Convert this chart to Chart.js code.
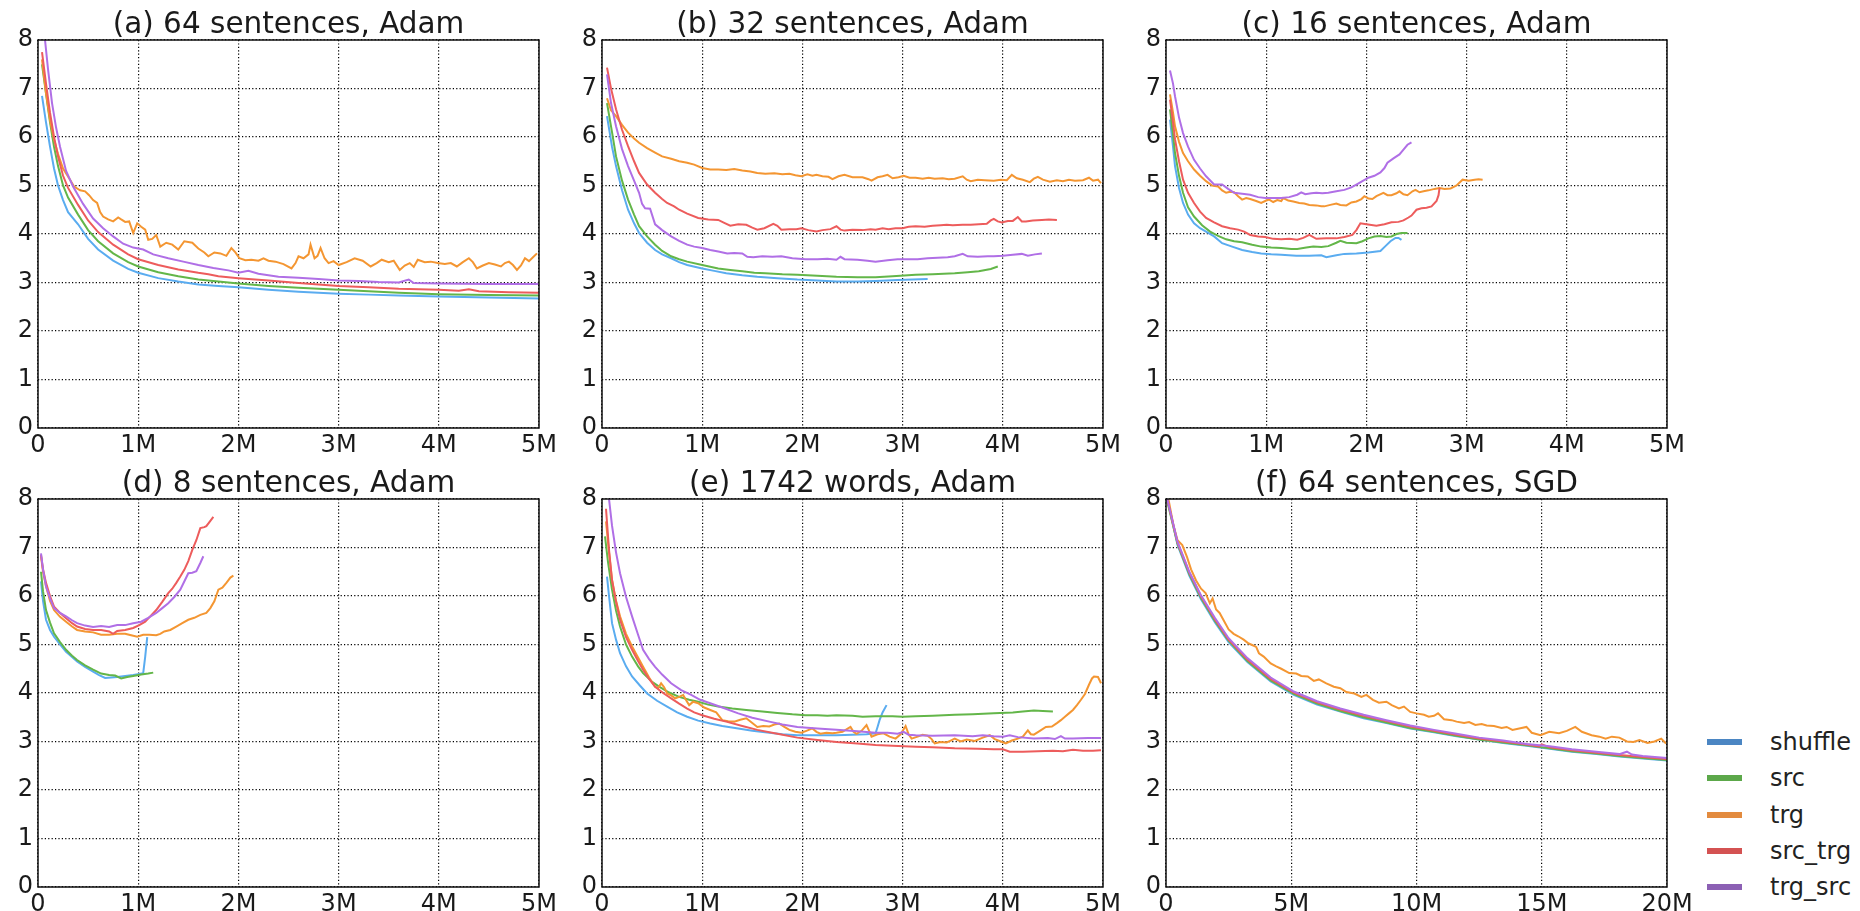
<!DOCTYPE html>
<html>
<head>
<meta charset="utf-8">
<title>Loss curves</title>
<script src="https://cdn.jsdelivr.net/npm/chart.js@4.4.1/dist/chart.umd.min.js"></script>
<style>
  html, body { margin: 0; padding: 0; background: #fff; }
  #page { position: relative; width: 1860px; height: 911px; overflow: hidden; }
  .panel { position: absolute; }
  #legend { position: absolute; left: 1707px; top: 724px; font-family: "DejaVu Sans", sans-serif; font-size: 24px; color: #222; }
  .legend-row { position: relative; height: 36.25px; line-height: 36px; white-space: nowrap; }
  .legend-line { position: absolute; left: 0; top: 15px; width: 35px; height: 6px; }
  .legend-text { position: absolute; left: 63px; top: 0; }
</style>
</head>
<body>
<div id="page"></div>
<script>
// ---- series / labels ----
const seriesNames = ["shuffle", "src", "trg", "src_trg", "trg_src"];
const lineColors = ["#5aacf0", "#63b649", "#f49632", "#ed5c5c", "#b06fe6"];
const legendColors = ["#4b86c3", "#5ca84a", "#e38b3e", "#d45252", "#8c60b4"];

const yLabels = ["0", "1", "2", "3", "4", "5", "6", "7", "8"];
const xLabels5M = ["0", "1M", "2M", "3M", "4M", "5M"];
const xLabels20M = ["0", "5M", "10M", "15M", "20M"];

// x values in millions of words, y = loss
// (a) 64 sentences, Adam
const aShuffle = [[0.04,6.85],[0.08,6.3],[0.12,5.8],[0.16,5.35],[0.2,5.0],[0.25,4.7],[0.3,4.45],[0.4,4.2],[0.5,3.9],[0.6,3.68],[0.75,3.45],[0.9,3.28],[1.0,3.2],[1.2,3.09],[1.4,3.02],[1.6,2.96],[1.8,2.93],[2.0,2.9],[2.3,2.85],[2.6,2.81],[2.9,2.78],[3.0,2.77],[3.3,2.75],[3.6,2.73],[4.0,2.71],[4.5,2.69],[5.0,2.67]];
const aSrc = [[0.04,7.5],[0.08,6.9],[0.12,6.3],[0.16,5.8],[0.2,5.4],[0.25,5.0],[0.3,4.75],[0.4,4.4],[0.5,4.08],[0.6,3.85],[0.75,3.6],[0.9,3.42],[1.0,3.33],[1.2,3.21],[1.4,3.13],[1.6,3.06],[1.8,3.02],[2.0,2.98],[2.3,2.93],[2.6,2.89],[3.0,2.85],[3.3,2.82],[3.6,2.79],[4.0,2.76],[4.5,2.74],[5.0,2.73]];
const aTrg = [[0.04,7.6],[0.08,6.9],[0.12,6.35],[0.16,5.95],[0.2,5.65],[0.25,5.35],[0.32,5.12],[0.36,4.98],[0.42,4.9],[0.47,4.88],[0.51,4.8],[0.55,4.7],[0.59,4.64],[0.62,4.45],[0.65,4.36],[0.7,4.3],[0.75,4.26],[0.8,4.34],[0.83,4.3],[0.87,4.25],[0.91,4.26],[0.95,4.02],[0.99,4.22],[1.03,4.15],[1.07,4.09],[1.1,3.88],[1.14,3.9],[1.18,3.98],[1.22,3.74],[1.28,3.82],[1.34,3.78],[1.4,3.68],[1.46,3.85],[1.54,3.82],[1.6,3.7],[1.66,3.62],[1.7,3.54],[1.76,3.62],[1.82,3.6],[1.88,3.55],[1.93,3.71],[1.97,3.62],[2.01,3.5],[2.07,3.46],[2.13,3.47],[2.2,3.45],[2.25,3.5],[2.3,3.45],[2.37,3.43],[2.45,3.38],[2.53,3.29],[2.57,3.4],[2.6,3.54],[2.65,3.5],[2.7,3.58],[2.72,3.78],[2.76,3.5],[2.79,3.55],[2.82,3.71],[2.86,3.5],[2.9,3.4],[2.95,3.44],[3.0,3.36],[3.08,3.42],[3.16,3.5],[3.24,3.45],[3.32,3.33],[3.38,3.4],[3.43,3.47],[3.5,3.42],[3.55,3.45],[3.61,3.26],[3.66,3.35],[3.71,3.4],[3.75,3.32],[3.79,3.47],[3.86,3.42],[3.92,3.43],[3.99,3.4],[4.06,3.38],[4.12,3.4],[4.18,3.33],[4.24,3.42],[4.3,3.5],[4.34,3.42],[4.38,3.29],[4.44,3.35],[4.5,3.4],[4.56,3.37],[4.62,3.33],[4.66,3.4],[4.7,3.43],[4.74,3.36],[4.78,3.26],[4.82,3.35],[4.86,3.5],[4.9,3.44],[4.94,3.52],[4.98,3.6]];
const aSrcTrg = [[0.04,7.75],[0.08,7.1],[0.12,6.5],[0.16,6.0],[0.2,5.6],[0.25,5.2],[0.3,4.95],[0.4,4.6],[0.5,4.28],[0.6,4.04],[0.75,3.78],[0.9,3.58],[1.0,3.48],[1.2,3.36],[1.4,3.27],[1.6,3.2],[1.7,3.17],[1.8,3.13],[2.0,3.09],[2.3,3.04],[2.6,2.99],[3.0,2.93],[3.3,2.9],[3.6,2.87],[4.0,2.85],[4.2,2.83],[4.3,2.86],[4.4,2.82],[4.7,2.8],[5.0,2.79]];
const aTrgSrc = [[0.07,8.0],[0.1,7.4],[0.14,6.7],[0.18,6.2],[0.22,5.8],[0.28,5.3],[0.35,4.98],[0.45,4.62],[0.55,4.32],[0.65,4.12],[0.75,3.95],[0.85,3.8],[0.95,3.72],[1.05,3.68],[1.15,3.58],[1.3,3.5],[1.45,3.43],[1.6,3.36],[1.75,3.3],[1.9,3.25],[2.0,3.2],[2.1,3.24],[2.2,3.18],[2.4,3.12],[2.6,3.1],[2.8,3.07],[3.0,3.04],[3.2,3.03],[3.4,3.01],[3.6,3.0],[3.7,3.06],[3.75,2.99],[4.0,2.98],[4.5,2.97],[5.0,2.97]];

// (b) 32 sentences, Adam
const bShuffle = [[0.05,6.43],[0.1,5.8],[0.14,5.4],[0.2,4.9],[0.26,4.5],[0.32,4.22],[0.37,4.02],[0.45,3.82],[0.53,3.67],[0.6,3.58],[0.69,3.5],[0.77,3.42],[0.85,3.36],[1.0,3.29],[1.12,3.24],[1.24,3.19],[1.4,3.15],[1.55,3.12],[1.75,3.09],[1.95,3.06],[2.15,3.04],[2.34,3.02],[2.55,3.02],[2.73,3.03],[2.95,3.05],[3.1,3.06],[3.25,3.07]];
const bSrc = [[0.05,6.7],[0.1,6.1],[0.14,5.6],[0.2,5.1],[0.26,4.71],[0.32,4.4],[0.37,4.16],[0.45,3.95],[0.53,3.78],[0.6,3.65],[0.69,3.54],[0.77,3.48],[0.85,3.43],[1.0,3.36],[1.16,3.29],[1.28,3.26],[1.4,3.23],[1.52,3.2],[1.63,3.19],[1.8,3.17],[1.95,3.16],[2.15,3.14],[2.34,3.12],[2.55,3.11],[2.73,3.11],[2.9,3.13],[3.13,3.16],[3.3,3.17],[3.52,3.19],[3.65,3.21],[3.76,3.23],[3.88,3.28],[3.95,3.33]];
const bTrg = [[0.05,6.8],[0.09,6.55],[0.14,6.43],[0.2,6.25],[0.26,6.09],[0.32,5.97],[0.37,5.88],[0.45,5.77],[0.53,5.68],[0.6,5.6],[0.69,5.55],[0.77,5.5],[0.85,5.47],[0.92,5.43],[1.0,5.36],[1.08,5.33],[1.16,5.33],[1.24,5.32],[1.32,5.34],[1.4,5.31],[1.48,5.29],[1.55,5.26],[1.63,5.24],[1.72,5.25],[1.8,5.23],[1.87,5.24],[1.93,5.21],[1.99,5.19],[2.05,5.23],[2.1,5.2],[2.14,5.22],[2.2,5.19],[2.26,5.18],[2.3,5.13],[2.36,5.19],[2.42,5.22],[2.5,5.17],[2.6,5.17],[2.66,5.13],[2.69,5.1],[2.75,5.17],[2.8,5.19],[2.85,5.22],[2.9,5.15],[2.96,5.17],[3.01,5.2],[3.07,5.16],[3.13,5.16],[3.2,5.14],[3.26,5.16],[3.32,5.14],[3.4,5.15],[3.46,5.13],[3.52,5.14],[3.6,5.19],[3.64,5.12],[3.68,5.09],[3.75,5.12],[3.82,5.11],[3.91,5.1],[3.98,5.12],[4.04,5.11],[4.09,5.22],[4.14,5.15],[4.2,5.12],[4.27,5.07],[4.31,5.14],[4.35,5.18],[4.4,5.12],[4.47,5.08],[4.54,5.11],[4.6,5.09],[4.66,5.12],[4.72,5.1],[4.8,5.11],[4.86,5.16],[4.9,5.1],[4.95,5.12],[4.98,5.05]];
const bSrcTrg = [[0.05,7.43],[0.09,7.0],[0.14,6.57],[0.2,6.15],[0.26,5.81],[0.32,5.5],[0.37,5.26],[0.45,5.02],[0.53,4.85],[0.6,4.72],[0.65,4.64],[0.72,4.57],[0.77,4.5],[0.85,4.42],[0.96,4.33],[1.06,4.3],[1.16,4.29],[1.22,4.23],[1.28,4.17],[1.36,4.2],[1.44,4.19],[1.5,4.13],[1.55,4.09],[1.62,4.12],[1.71,4.21],[1.75,4.17],[1.79,4.09],[1.87,4.1],[1.94,4.1],[1.99,4.12],[2.06,4.08],[2.14,4.05],[2.2,4.08],[2.28,4.1],[2.34,4.16],[2.38,4.09],[2.42,4.07],[2.5,4.09],[2.6,4.08],[2.68,4.1],[2.73,4.09],[2.8,4.12],[2.86,4.1],[2.93,4.12],[3.0,4.12],[3.06,4.15],[3.13,4.16],[3.22,4.15],[3.3,4.17],[3.38,4.18],[3.44,4.19],[3.5,4.18],[3.6,4.19],[3.68,4.19],[3.76,4.2],[3.84,4.21],[3.88,4.28],[3.91,4.31],[3.95,4.26],[3.99,4.24],[4.05,4.27],[4.1,4.27],[4.15,4.35],[4.19,4.26],[4.23,4.26],[4.3,4.28],[4.39,4.29],[4.46,4.3],[4.54,4.29]];
const bTrgSrc = [[0.05,7.29],[0.09,6.7],[0.14,6.22],[0.2,5.75],[0.26,5.4],[0.32,5.1],[0.37,4.85],[0.4,4.62],[0.43,4.53],[0.48,4.52],[0.53,4.2],[0.6,4.08],[0.69,3.95],[0.77,3.86],[0.85,3.78],[0.92,3.74],[1.0,3.71],[1.08,3.67],[1.16,3.64],[1.25,3.6],[1.32,3.61],[1.4,3.6],[1.45,3.53],[1.51,3.52],[1.6,3.54],[1.7,3.53],[1.79,3.54],[1.9,3.5],[2.03,3.48],[2.15,3.48],[2.25,3.49],[2.34,3.47],[2.38,3.53],[2.42,3.48],[2.55,3.47],[2.65,3.45],[2.73,3.43],[2.85,3.46],[2.95,3.48],[3.05,3.48],[3.15,3.48],[3.25,3.5],[3.35,3.51],[3.45,3.52],[3.52,3.54],[3.6,3.59],[3.65,3.54],[3.75,3.53],[3.85,3.54],[3.91,3.54],[4.0,3.55],[4.1,3.57],[4.19,3.59],[4.25,3.55],[4.32,3.58],[4.39,3.6]];

// (c) 16 sentences, Adam
const cShuffle = [[0.04,6.36],[0.07,5.8],[0.09,5.4],[0.13,4.95],[0.17,4.64],[0.22,4.4],[0.28,4.22],[0.34,4.12],[0.4,4.05],[0.48,3.95],[0.56,3.81],[0.66,3.74],[0.76,3.67],[0.86,3.63],[0.95,3.6],[1.05,3.58],[1.15,3.57],[1.3,3.55],[1.43,3.55],[1.55,3.56],[1.6,3.52],[1.7,3.56],[1.78,3.59],[1.9,3.6],[2.02,3.62],[2.14,3.65],[2.19,3.75],[2.24,3.85],[2.29,3.92],[2.32,3.92],[2.35,3.88]];
const cSrc = [[0.04,6.57],[0.07,6.05],[0.09,5.67],[0.13,5.2],[0.17,4.85],[0.22,4.55],[0.28,4.36],[0.36,4.18],[0.44,4.05],[0.52,3.96],[0.6,3.89],[0.68,3.85],[0.76,3.83],[0.86,3.78],[0.95,3.74],[1.05,3.72],[1.15,3.71],[1.25,3.69],[1.31,3.69],[1.4,3.72],[1.47,3.74],[1.55,3.73],[1.62,3.75],[1.7,3.82],[1.74,3.86],[1.8,3.82],[1.9,3.81],[1.96,3.85],[2.02,3.91],[2.08,3.95],[2.14,3.96],[2.2,3.94],[2.25,3.95],[2.3,4.0],[2.35,4.02],[2.41,4.02]];
const cTrg = [[0.04,6.88],[0.07,6.5],[0.09,6.22],[0.13,5.9],[0.17,5.67],[0.22,5.5],[0.28,5.33],[0.34,5.2],[0.4,5.09],[0.46,5.0],[0.52,4.98],[0.56,4.9],[0.6,4.85],[0.64,4.87],[0.68,4.86],[0.72,4.78],[0.76,4.71],[0.8,4.74],[0.84,4.72],[0.9,4.68],[0.95,4.64],[1.0,4.69],[1.03,4.71],[1.07,4.66],[1.11,4.7],[1.15,4.68],[1.17,4.74],[1.22,4.69],[1.27,4.67],[1.33,4.64],[1.38,4.63],[1.43,4.6],[1.5,4.59],[1.55,4.57],[1.58,4.57],[1.64,4.6],[1.7,4.63],[1.74,4.6],[1.8,4.59],[1.85,4.65],[1.9,4.67],[1.95,4.72],[1.98,4.78],[2.02,4.73],[2.06,4.72],[2.1,4.78],[2.17,4.85],[2.21,4.8],[2.25,4.8],[2.3,4.84],[2.33,4.88],[2.37,4.82],[2.41,4.8],[2.46,4.88],[2.49,4.91],[2.53,4.86],[2.57,4.88],[2.62,4.9],[2.68,4.93],[2.73,4.95],[2.78,4.93],[2.84,4.94],[2.9,5.0],[2.96,5.12],[3.02,5.1],[3.08,5.12],[3.12,5.13],[3.16,5.12]];
const cSrcTrg = [[0.04,6.77],[0.07,6.3],[0.09,5.95],[0.13,5.5],[0.17,5.12],[0.22,4.85],[0.28,4.64],[0.34,4.46],[0.4,4.33],[0.48,4.24],[0.56,4.16],[0.64,4.12],[0.72,4.09],[0.78,4.05],[0.84,3.98],[0.92,3.95],[0.99,3.94],[1.07,3.9],[1.15,3.89],[1.23,3.9],[1.31,3.88],[1.37,3.92],[1.43,3.98],[1.5,3.9],[1.6,3.91],[1.7,3.91],[1.78,3.94],[1.86,3.98],[1.9,4.08],[1.94,4.22],[2.0,4.2],[2.1,4.17],[2.18,4.2],[2.25,4.24],[2.32,4.25],[2.37,4.28],[2.42,4.34],[2.45,4.38],[2.5,4.5],[2.55,4.53],[2.6,4.54],[2.65,4.57],[2.7,4.68],[2.72,4.8],[2.73,4.95]];
const cTrgSrc = [[0.04,7.37],[0.07,7.1],[0.09,6.84],[0.13,6.4],[0.17,6.08],[0.22,5.8],[0.28,5.53],[0.34,5.35],[0.4,5.19],[0.48,5.02],[0.56,5.02],[0.62,4.93],[0.68,4.85],[0.76,4.83],[0.84,4.81],[0.92,4.76],[0.99,4.74],[1.07,4.74],[1.15,4.74],[1.23,4.76],[1.31,4.81],[1.35,4.86],[1.39,4.82],[1.45,4.84],[1.5,4.85],[1.56,4.84],[1.62,4.85],[1.7,4.88],[1.78,4.91],[1.85,4.96],[1.9,5.02],[1.96,5.09],[2.02,5.16],[2.08,5.2],[2.14,5.27],[2.18,5.36],[2.21,5.47],[2.27,5.56],[2.33,5.64],[2.37,5.74],[2.41,5.84],[2.45,5.89]];

// (d) 8 sentences, Adam
const dShuffle = [[0.03,6.3],[0.05,5.9],[0.08,5.51],[0.12,5.3],[0.16,5.16],[0.22,5.0],[0.28,4.85],[0.34,4.74],[0.39,4.65],[0.47,4.54],[0.55,4.44],[0.61,4.37],[0.67,4.31],[0.73,4.32],[0.79,4.33],[0.87,4.35],[0.95,4.37],[1.01,4.39],[1.05,4.41],[1.07,4.75],[1.09,5.15]];
const dSrc = [[0.03,6.5],[0.05,6.1],[0.08,5.71],[0.12,5.45],[0.16,5.23],[0.22,5.05],[0.28,4.89],[0.34,4.77],[0.39,4.68],[0.47,4.57],[0.55,4.48],[0.63,4.4],[0.71,4.37],[0.77,4.36],[0.83,4.3],[0.89,4.33],[0.95,4.35],[1.03,4.38],[1.1,4.4],[1.15,4.42]];
const dTrg = [[0.03,6.82],[0.05,6.5],[0.08,6.2],[0.12,5.9],[0.16,5.71],[0.22,5.57],[0.28,5.47],[0.34,5.37],[0.39,5.3],[0.47,5.27],[0.55,5.25],[0.63,5.2],[0.71,5.2],[0.79,5.22],[0.87,5.22],[0.93,5.19],[0.99,5.16],[1.05,5.2],[1.11,5.2],[1.18,5.19],[1.22,5.22],[1.26,5.27],[1.32,5.3],[1.38,5.37],[1.44,5.44],[1.5,5.51],[1.56,5.55],[1.62,5.61],[1.68,5.65],[1.72,5.75],[1.76,5.89],[1.8,6.13],[1.84,6.17],[1.88,6.27],[1.92,6.38],[1.95,6.42]];
const dSrcTrg = [[0.03,6.85],[0.05,6.55],[0.08,6.27],[0.12,6.0],[0.16,5.78],[0.22,5.65],[0.28,5.54],[0.34,5.44],[0.39,5.37],[0.47,5.32],[0.55,5.3],[0.63,5.3],[0.71,5.27],[0.75,5.22],[0.79,5.28],[0.87,5.3],[0.95,5.34],[1.01,5.4],[1.07,5.47],[1.12,5.58],[1.18,5.71],[1.24,5.88],[1.3,6.06],[1.34,6.15],[1.38,6.27],[1.42,6.4],[1.46,6.54],[1.5,6.72],[1.54,6.95],[1.58,7.15],[1.62,7.4],[1.66,7.42],[1.68,7.44],[1.72,7.55],[1.75,7.63]];
const dTrgSrc = [[0.03,6.88],[0.05,6.55],[0.08,6.2],[0.12,5.95],[0.16,5.75],[0.22,5.65],[0.28,5.58],[0.34,5.5],[0.39,5.44],[0.47,5.39],[0.55,5.36],[0.63,5.38],[0.71,5.36],[0.79,5.4],[0.87,5.4],[0.95,5.44],[1.03,5.47],[1.1,5.55],[1.18,5.65],[1.24,5.75],[1.3,5.85],[1.36,5.98],[1.42,6.13],[1.46,6.3],[1.5,6.47],[1.54,6.48],[1.58,6.51],[1.62,6.68],[1.65,6.82]];

// (e) 1742 words, Adam
const eShuffle = [[0.05,6.4],[0.07,6.0],[0.1,5.44],[0.14,5.1],[0.18,4.82],[0.24,4.55],[0.3,4.34],[0.38,4.15],[0.45,3.99],[0.55,3.84],[0.65,3.72],[0.75,3.6],[0.85,3.51],[0.96,3.43],[1.08,3.37],[1.2,3.32],[1.36,3.27],[1.5,3.22],[1.67,3.18],[1.8,3.15],[1.95,3.13],[2.15,3.13],[2.34,3.13],[2.5,3.14],[2.64,3.15],[2.73,3.17],[2.75,3.3],[2.77,3.44],[2.8,3.6],[2.84,3.75]];
const eSrc = [[0.03,7.23],[0.06,6.7],[0.1,6.13],[0.14,5.7],[0.18,5.37],[0.24,5.0],[0.3,4.75],[0.36,4.55],[0.41,4.41],[0.5,4.23],[0.57,4.13],[0.67,4.01],[0.77,3.92],[0.87,3.86],[0.96,3.82],[1.06,3.76],[1.16,3.72],[1.3,3.68],[1.44,3.65],[1.6,3.62],[1.75,3.59],[1.9,3.56],[2.03,3.54],[2.15,3.54],[2.25,3.53],[2.34,3.54],[2.5,3.53],[2.6,3.51],[2.73,3.52],[2.9,3.52],[3.0,3.51],[3.13,3.52],[3.3,3.53],[3.52,3.55],[3.7,3.56],[3.91,3.58],[4.1,3.6],[4.2,3.62],[4.31,3.64],[4.4,3.63],[4.5,3.62]];
const eTrg = [[0.04,7.54],[0.07,6.9],[0.1,6.33],[0.14,5.9],[0.18,5.58],[0.24,5.22],[0.3,4.96],[0.36,4.73],[0.41,4.54],[0.47,4.32],[0.53,4.13],[0.56,4.1],[0.59,4.2],[0.62,4.12],[0.65,3.99],[0.69,3.95],[0.73,3.89],[0.77,3.92],[0.81,3.96],[0.84,3.85],[0.87,3.75],[0.91,3.82],[0.96,3.79],[1.02,3.7],[1.08,3.65],[1.14,3.6],[1.2,3.44],[1.26,3.42],[1.32,3.41],[1.38,3.45],[1.44,3.48],[1.5,3.38],[1.55,3.3],[1.61,3.32],[1.67,3.31],[1.72,3.35],[1.77,3.37],[1.82,3.3],[1.87,3.24],[1.93,3.2],[1.99,3.18],[2.04,3.22],[2.1,3.27],[2.14,3.2],[2.18,3.16],[2.24,3.18],[2.3,3.17],[2.34,3.18],[2.4,3.2],[2.44,3.25],[2.48,3.3],[2.51,3.2],[2.54,3.16],[2.59,3.22],[2.64,3.34],[2.67,3.2],[2.69,3.1],[2.75,3.15],[2.81,3.17],[2.87,3.1],[2.93,3.06],[2.98,3.15],[3.03,3.32],[3.06,3.15],[3.09,3.06],[3.15,3.1],[3.2,3.14],[3.25,3.12],[3.29,3.05],[3.32,2.96],[3.38,2.99],[3.44,2.98],[3.48,3.02],[3.52,3.06],[3.58,3.0],[3.64,3.04],[3.72,3.01],[3.8,3.08],[3.87,3.13],[3.92,3.05],[3.98,3.0],[4.03,2.96],[4.09,3.02],[4.15,3.06],[4.2,3.1],[4.25,3.23],[4.28,3.15],[4.31,3.14],[4.37,3.22],[4.43,3.3],[4.49,3.31],[4.54,3.38],[4.58,3.44],[4.62,3.51],[4.66,3.58],[4.7,3.65],[4.74,3.75],[4.78,3.86],[4.82,3.98],[4.86,4.17],[4.89,4.3],[4.91,4.34],[4.95,4.33],[4.98,4.2]];
const eSrcTrg = [[0.04,7.8],[0.07,6.95],[0.1,6.33],[0.14,5.88],[0.18,5.51],[0.24,5.15],[0.3,4.89],[0.36,4.66],[0.41,4.48],[0.47,4.29],[0.53,4.13],[0.61,4.0],[0.69,3.89],[0.77,3.78],[0.85,3.68],[0.92,3.6],[1.0,3.54],[1.12,3.47],[1.24,3.41],[1.4,3.32],[1.55,3.24],[1.75,3.16],[1.95,3.08],[2.15,3.03],[2.34,2.99],[2.55,2.96],[2.73,2.93],[2.9,2.91],[3.13,2.89],[3.3,2.88],[3.52,2.86],[3.75,2.85],[3.91,2.84],[4.0,2.84],[4.07,2.79],[4.2,2.79],[4.35,2.8],[4.5,2.81],[4.6,2.8],[4.7,2.83],[4.8,2.81],[4.9,2.81],[4.98,2.82]];
const eTrgSrc = [[0.07,8.0],[0.1,7.45],[0.14,6.9],[0.18,6.47],[0.24,5.98],[0.3,5.58],[0.36,5.2],[0.41,4.89],[0.47,4.7],[0.53,4.54],[0.6,4.38],[0.69,4.2],[0.79,4.06],[0.89,3.96],[0.98,3.86],[1.08,3.79],[1.2,3.7],[1.36,3.58],[1.5,3.49],[1.67,3.41],[1.8,3.35],[1.95,3.3],[2.15,3.27],[2.34,3.24],[2.55,3.21],[2.73,3.18],[2.85,3.18],[2.95,3.16],[3.01,3.2],[3.06,3.14],[3.13,3.13],[3.3,3.12],[3.52,3.13],[3.7,3.11],[3.8,3.13],[3.91,3.11],[4.0,3.1],[4.07,3.13],[4.15,3.09],[4.31,3.06],[4.45,3.07],[4.52,3.05],[4.58,3.11],[4.62,3.06],[4.7,3.06],[4.85,3.07],[4.98,3.07]];

// (f) 64 sentences, SGD
const fShuffle = [[0.05,8.0],[0.46,7.05],[0.93,6.42],[1.39,5.94],[1.95,5.46],[2.5,5.05],[3.25,4.64],[4.18,4.24],[5.1,3.96],[6.03,3.76],[6.96,3.62],[7.89,3.48],[8.8,3.38],[9.75,3.27],[10.7,3.19],[11.6,3.11],[12.5,3.04],[13.46,2.97],[14.4,2.91],[15.32,2.85],[16.2,2.79],[17.18,2.74],[18.1,2.69],[19.03,2.65],[20.0,2.61]];
const fSrc = [[0.05,7.95],[0.46,7.08],[0.93,6.45],[1.39,5.97],[1.95,5.49],[2.5,5.08],[3.25,4.66],[4.18,4.26],[5.1,3.98],[6.03,3.78],[6.96,3.63],[7.89,3.5],[8.8,3.39],[9.75,3.28],[10.7,3.2],[11.6,3.12],[12.5,3.04],[13.46,2.98],[14.4,2.92],[15.32,2.86],[16.2,2.8],[17.18,2.75],[18.1,2.7],[19.03,2.66],[20.0,2.62]];
const fTrg = [[0.1,7.99],[0.3,7.45],[0.46,7.15],[0.65,7.05],[0.84,6.8],[1.0,6.55],[1.2,6.32],[1.4,6.15],[1.58,6.06],[1.75,5.85],[1.86,5.95],[2.0,5.72],[2.14,5.65],[2.3,5.5],[2.5,5.31],[2.7,5.22],[2.88,5.17],[3.1,5.1],[3.3,5.02],[3.44,4.99],[3.6,4.95],[3.71,4.82],[3.9,4.75],[4.18,4.61],[4.4,4.55],[4.6,4.5],[4.92,4.41],[5.2,4.4],[5.4,4.35],[5.66,4.34],[5.9,4.25],[6.1,4.28],[6.4,4.2],[6.7,4.13],[6.96,4.1],[7.2,4.02],[7.52,3.99],[7.8,3.92],[8.0,3.96],[8.26,3.86],[8.5,3.8],[8.8,3.82],[9.01,3.75],[9.3,3.68],[9.5,3.72],[9.75,3.61],[10.0,3.58],[10.3,3.55],[10.49,3.51],[10.7,3.53],[10.86,3.58],[11.1,3.46],[11.4,3.44],[11.6,3.41],[11.9,3.38],[12.1,3.4],[12.35,3.34],[12.6,3.36],[12.8,3.33],[13.09,3.32],[13.4,3.28],[13.6,3.3],[13.83,3.24],[14.1,3.27],[14.39,3.3],[14.6,3.18],[14.95,3.13],[15.3,3.2],[15.69,3.17],[16.0,3.22],[16.34,3.3],[16.6,3.2],[16.99,3.13],[17.3,3.1],[17.55,3.06],[17.8,3.1],[18.1,3.08],[18.4,3.0],[18.66,2.99],[18.9,3.03],[19.22,2.97],[19.5,3.0],[19.77,3.06],[19.96,2.96]];
const fSrcTrg = [[0.05,8.0],[0.46,7.1],[0.93,6.48],[1.39,6.0],[1.95,5.52],[2.5,5.1],[3.25,4.69],[4.18,4.29],[5.1,4.01],[6.03,3.81],[6.96,3.66],[7.89,3.53],[8.8,3.42],[9.75,3.31],[10.7,3.22],[11.6,3.14],[12.5,3.06],[13.46,3.0],[14.4,2.94],[14.9,2.9],[15.0,2.94],[15.32,2.88],[16.2,2.82],[17.18,2.77],[18.1,2.72],[19.03,2.68],[20.0,2.64]];
const fTrgSrc = [[0.05,8.0],[0.46,7.12],[0.93,6.5],[1.39,6.02],[1.95,5.55],[2.5,5.13],[3.25,4.72],[4.18,4.32],[5.1,4.03],[6.03,3.83],[6.96,3.68],[7.89,3.55],[8.8,3.44],[9.75,3.33],[10.7,3.24],[11.6,3.16],[12.5,3.08],[13.46,3.02],[14.4,2.95],[15.32,2.9],[16.2,2.84],[17.18,2.79],[18.1,2.74],[18.4,2.79],[18.6,2.73],[19.03,2.7],[20.0,2.66]];

// ---- layout ----
const plotW = 501, plotH = 388;
const padL = 36, padT = 40, padR = 30, padB = 45;
const yAxisW = 34, xAxisH = 32, titleSize = 29.5, tickSize = 24;

const panels = [
  { title: "(a) 64 sentences, Adam", left: 38,   top: 40,  xMax: 5,  xStep: 1, xLabels: xLabels5M,  series: [aShuffle, aSrc, aTrg, aSrcTrg, aTrgSrc] },
  { title: "(b) 32 sentences, Adam", left: 602,  top: 40,  xMax: 5,  xStep: 1, xLabels: xLabels5M,  series: [bShuffle, bSrc, bTrg, bSrcTrg, bTrgSrc] },
  { title: "(c) 16 sentences, Adam", left: 1166, top: 40,  xMax: 5,  xStep: 1, xLabels: xLabels5M,  series: [cShuffle, cSrc, cTrg, cSrcTrg, cTrgSrc] },
  { title: "(d) 8 sentences, Adam",  left: 38,   top: 499, xMax: 5,  xStep: 1, xLabels: xLabels5M,  series: [dShuffle, dSrc, dTrg, dSrcTrg, dTrgSrc] },
  { title: "(e) 1742 words, Adam",   left: 602,  top: 499, xMax: 5,  xStep: 1, xLabels: xLabels5M,  series: [eShuffle, eSrc, eTrg, eSrcTrg, eTrgSrc] },
  { title: "(f) 64 sentences, SGD",  left: 1166, top: 499, xMax: 20, xStep: 5, xLabels: xLabels20M, series: [fShuffle, fSrc, fTrg, fSrcTrg, fTrgSrc] },
];

Chart.defaults.font.family = '"DejaVu Sans", sans-serif';
Chart.defaults.color = "#1a1a1a";

// black box round the plot area, like matplotlib spines
const framePlugin = {
  id: "frame",
  afterDatasetsDraw(chart) {
    const { ctx, chartArea: a } = chart;
    ctx.save();
    ctx.strokeStyle = "#111";
    ctx.lineWidth = 1.5;
    ctx.strokeRect(a.left, a.top, a.right - a.left, a.bottom - a.top);
    ctx.restore();
  },
};

const page = document.getElementById("page");

panels.forEach((p) => {
  const box = document.createElement("div");
  box.className = "panel";
  box.style.left = p.left - padL + "px";
  box.style.top = p.top - padT + "px";
  box.style.width = padL + plotW + padR + "px";
  box.style.height = padT + plotH + padB + "px";
  const canvas = document.createElement("canvas");
  box.appendChild(canvas);
  page.appendChild(box);

  const datasets = p.series.map((pts, i) => ({
    label: seriesNames[i],
    data: pts.map(([x, y]) => ({ x, y })),
    borderColor: lineColors[i],
    backgroundColor: lineColors[i],
    borderWidth: 2,
    pointRadius: 0,
    tension: 0,
    fill: false,
    order: seriesNames.length - i,
  }));

  const gridStyle = { color: "#000", lineWidth: 1.2, drawTicks: false };

  new Chart(canvas.getContext("2d"), {
    type: "line",
    data: { datasets },
    plugins: [framePlugin],
    options: {
      responsive: true,
      maintainAspectRatio: false,
      animation: false,
      layout: {
        padding: { left: padL - yAxisW, top: padT - titleSize, right: padR, bottom: padB - xAxisH },
      },
      plugins: {
        legend: { display: false },
        tooltip: { enabled: false },
        title: {
          display: true,
          text: p.title,
          fullSize: false,
          padding: { top: 0, bottom: 0 },
          font: { size: titleSize, weight: "normal", lineHeight: 1 },
        },
      },
      scales: {
        x: {
          type: "linear",
          min: 0,
          max: p.xMax,
          grid: gridStyle,
          border: { display: false, dash: [1.2, 2.2] },
          ticks: {
            stepSize: p.xStep,
            autoSkip: false,
            maxRotation: 0,
            padding: 3,
            font: { size: tickSize },
            callback: (v, i) => p.xLabels[i],
          },
          afterFit: (scale) => { scale.height = xAxisH; },
        },
        y: {
          min: 0,
          max: 8,
          grid: gridStyle,
          border: { display: false, dash: [1.2, 2.2] },
          ticks: {
            stepSize: 1,
            padding: 5,
            font: { size: tickSize },
            callback: (v, i) => yLabels[i],
          },
          afterFit: (scale) => { scale.width = yAxisW; },
        },
      },
    },
  });
});

// legend to the right of panel (f)
const legend = document.createElement("div");
legend.id = "legend";
seriesNames.forEach((name, i) => {
  const row = document.createElement("div");
  row.className = "legend-row";
  const line = document.createElement("span");
  line.className = "legend-line";
  line.style.background = legendColors[i];
  const text = document.createElement("span");
  text.className = "legend-text";
  text.textContent = name;
  row.appendChild(line);
  row.appendChild(text);
  legend.appendChild(row);
});
page.appendChild(legend);
</script>
</body>
</html>
